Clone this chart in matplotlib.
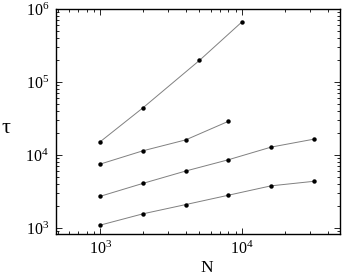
import matplotlib
matplotlib.use('Agg')
import matplotlib.pyplot as plt
from matplotlib.ticker import LogLocator, NullFormatter

plt.rcParams['font.family'] = ['Liberation Serif', 'DejaVu Serif']
plt.rcParams['mathtext.fontset'] = 'stix'

# system sizes and relaxation times, one list per curve
N_a = [1000, 2000, 5000, 10000]
tau_a = [15300, 44500, 198000, 670000]

N_b = [1000, 2000, 4000, 8000]
tau_b = [7540, 11460, 16150, 29000]

N_c = [1000, 2000, 4000, 8000, 16000, 32000]
tau_c = [2730, 4100, 6050, 8630, 12850, 16500]

N_d = [1000, 2000, 4000, 8000, 16000, 32000]
tau_d = [1100, 1570, 2100, 2820, 3790, 4370]

fig = plt.figure(figsize=(3.43, 2.75), dpi=100)
ax = fig.add_axes([56/343, 1 - 234/275, 284/343, 225/275])

for N, tau in [(N_a, tau_a), (N_b, tau_b), (N_c, tau_c), (N_d, tau_d)]:
    ax.plot(N, tau, color='#808080', lw=0.7, zorder=1)
    ax.plot(N, tau, 'o', color='black', ms=3.2, mew=0, zorder=2)

ax.set_xscale('log')
ax.set_yscale('log')
ax.set_xlim(486, 49000)
ax.set_ylim(830, 1e6)

ax.xaxis.set_major_locator(LogLocator(base=10))
ax.yaxis.set_major_locator(LogLocator(base=10))
ax.xaxis.set_minor_locator(LogLocator(base=10, subs=range(2, 10)))
ax.yaxis.set_minor_locator(LogLocator(base=10, subs=range(2, 10)))
ax.xaxis.set_minor_formatter(NullFormatter())
ax.yaxis.set_minor_formatter(NullFormatter())

ax.tick_params(which='both', direction='in', top=True, right=True, labelsize=11.5, width=0.6)
ax.tick_params(which='major', length=4, pad=5)
ax.tick_params(which='minor', length=2)
for s in ax.spines.values():
    s.set_linewidth(1.0)

ax.set_xlabel('N', fontsize=12.5, va='center')
ax.xaxis.set_label_coords(0.532, -0.149)
ax.set_ylabel('τ', fontsize=16, rotation=0, va='center', ha='center')
ax.yaxis.set_label_coords(-0.176, 0.467)

fig.savefig('out.png', dpi=100)
